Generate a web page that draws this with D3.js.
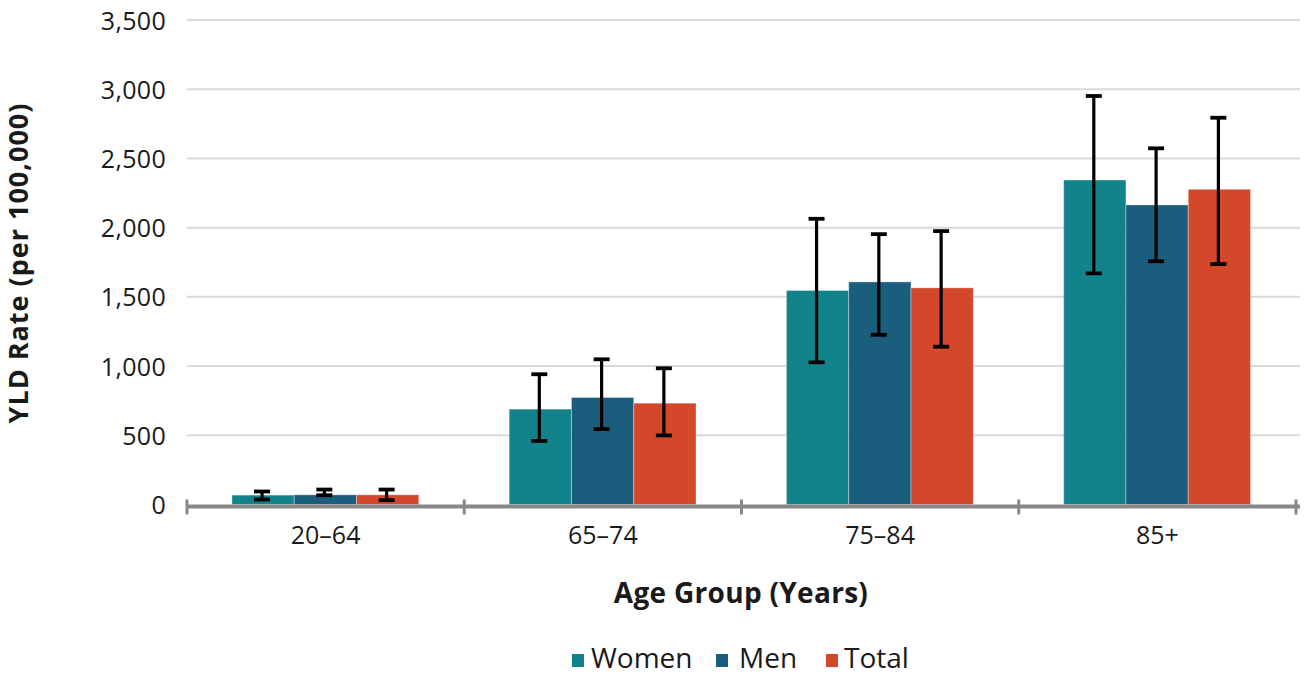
<!DOCTYPE html>
<html lang="en">
<head>
<meta charset="UTF-8">
<title>YLD Rate by Age Group</title>
<script src="https://cdn.jsdelivr.net/npm/d3@7/dist/d3.min.js"></script>
<style>
  body { margin: 0; background: #fff; }
  text { font-family: "Open Sans", Roboto, sans-serif; fill: #1a1a1a; }
</style>
</head>
<body>
<script>
// data
var ageGroups = ["20\u201364", "65\u201374", "75\u201384", "85+"];
var seriesNames = ["Women", "Men", "Total"];
var seriesColors = ["#12838a", "#1b5d7d", "#d3472b"];

var women = [68, 689, 1546, 2344];
var womenLow = [36, 459, 1027, 1670];
var womenHigh = [94, 941, 2064, 2951];

var men = [70, 773, 1608, 2164];
var menLow = [67, 545, 1226, 1757];
var menHigh = [108, 1049, 1953, 2573];

var total = [70, 732, 1565, 2277];
var totalLow = [31, 499, 1140, 1737];
var totalHigh = [108, 984, 1975, 2794];

var yTicks = [0, 500, 1000, 1500, 2000, 2500, 3000, 3500];

var values = [women, men, total];
var lows = [womenLow, menLow, totalLow];
var highs = [womenHigh, menHigh, totalHigh];

var width = 1306, height = 679;
var plotLeft = 187, plotRight = 1296, plotTop = 20, plotBottom = 504.5;

var svg = d3.select("body").append("svg")
    .attr("width", width)
    .attr("height", height);

var x0 = d3.scaleBand().domain(ageGroups).range([plotLeft, plotRight]);
var x1 = d3.scaleBand().domain(seriesNames)
    .range([x0.bandwidth() * 0.162, x0.bandwidth() * 0.836]);
var y = d3.scaleLinear().domain([0, 3500]).range([plotBottom, plotTop]);

// gridlines
svg.append("g").selectAll("line")
    .data(yTicks.filter(function (d) { return d > 0; }))
    .enter().append("line")
    .attr("x1", plotLeft).attr("x2", 1300)
    .attr("y1", function (d) { return y(d); })
    .attr("y2", function (d) { return y(d); })
    .attr("stroke", "#d9d9d9")
    .attr("stroke-width", 2);

// y labels
var yAxis = svg.append("g")
    .attr("transform", "translate(" + (plotLeft - 21) + ",0)")
    .call(d3.axisLeft(y).tickValues(yTicks).tickSize(0).tickPadding(0).tickFormat(d3.format(",")));
yAxis.select(".domain").remove();
yAxis.selectAll("text")
    .attr("dy", "0.36em")
    .style("font-family", "'Open Sans', sans-serif")
    .style("font-size", "25px")
    .style("font-weight", "400")
    .style("letter-spacing", "0.3px")
    .style("fill", "#1a1a1a");

// bars
var rows = [];
ageGroups.forEach(function (g, i) {
    seriesNames.forEach(function (s, j) {
        rows.push({ group: g, series: s, color: seriesColors[j],
            value: values[j][i], low: lows[j][i], high: highs[j][i] });
    });
});

svg.append("g").selectAll("rect")
    .data(rows)
    .enter().append("rect")
    .attr("x", function (d) { return x0(d.group) + x1(d.series); })
    .attr("y", function (d) { return y(d.value); })
    .attr("width", x1.bandwidth())
    .attr("height", function (d) { return y(0) - y(d.value); })
    .attr("fill", function (d) { return d.color; })
    .attr("stroke", "#ffffff")
    .attr("stroke-opacity", 0.35)
    .attr("stroke-width", 1);

// x axis line
var xAxis = svg.append("g")
    .attr("transform", "translate(0," + (plotBottom + 2) + ")");
xAxis.append("line")
    .attr("x1", plotLeft).attr("x2", 1300)
    .attr("stroke", "#888").attr("stroke-width", 4);
xAxis.selectAll(".tk")
    .data(ageGroups.map(function (g) { return x0(g); }).concat([plotRight]))
    .enter().append("line")
    .attr("class", "tk")
    .attr("x1", function (d) { return d; })
    .attr("x2", function (d) { return d; })
    .attr("y1", -7).attr("y2", 8)
    .attr("stroke", "#888").attr("stroke-width", 3);
xAxis.selectAll("text")
    .data(ageGroups)
    .enter().append("text")
    .attr("x", function (d) { return x0(d) + x0.bandwidth() / 2; })
    .attr("y", 37)
    .attr("text-anchor", "middle")
    .style("font-size", "25px")
    .style("font-weight", "400")
    .text(function (d) { return d; });

// error bars
var err = svg.append("g").selectAll("g")
    .data(rows)
    .enter().append("g")
    .attr("transform", function (d) {
        return "translate(" + (x0(d.group) + x1(d.series) + x1.bandwidth() / 2 - 1) + ",0)";
    });
err.append("line")
    .attr("y1", function (d) { return y(d.low); })
    .attr("y2", function (d) { return y(d.high); })
    .attr("stroke", "#000").attr("stroke-width", 3.2);
err.append("line")
    .attr("x1", -8).attr("x2", 8)
    .attr("y1", function (d) { return y(d.high); })
    .attr("y2", function (d) { return y(d.high); })
    .attr("stroke", "#000").attr("stroke-width", 3.8);
err.append("line")
    .attr("x1", -8).attr("x2", 8)
    .attr("y1", function (d) { return y(d.low); })
    .attr("y2", function (d) { return y(d.low); })
    .attr("stroke", "#000").attr("stroke-width", 3.8);

// axis titles
svg.append("text")
    .attr("x", 741)
    .attr("y", 603)
    .attr("text-anchor", "middle")
    .style("font-size", "28px")
    .style("font-weight", "bold")
    .style("letter-spacing", "0.3px")
    .text("Age Group (Years)");

svg.append("text")
    .attr("transform", "translate(28,263) rotate(-90)")
    .attr("text-anchor", "middle")
    .style("font-size", "27px")
    .style("font-weight", "bold")
    .style("letter-spacing", "1px")
    .text("YLD Rate (per 100,000)");

// legend
var legendBox = [572, 716, 826];
var legendText = [591, 739, 844];
var legend = svg.append("g").selectAll("g")
    .data(seriesNames)
    .enter().append("g");
legend.append("rect")
    .attr("x", function (d, i) { return legendBox[i]; })
    .attr("y", 654)
    .attr("width", 12).attr("height", 13)
    .attr("fill", function (d, i) { return seriesColors[i]; });
legend.append("text")
    .attr("x", function (d, i) { return legendText[i]; })
    .attr("y", 668)
    .style("font-size", "28px")
    .style("font-weight", "400")
    .text(function (d) { return d; });
</script>
</body>
</html>
